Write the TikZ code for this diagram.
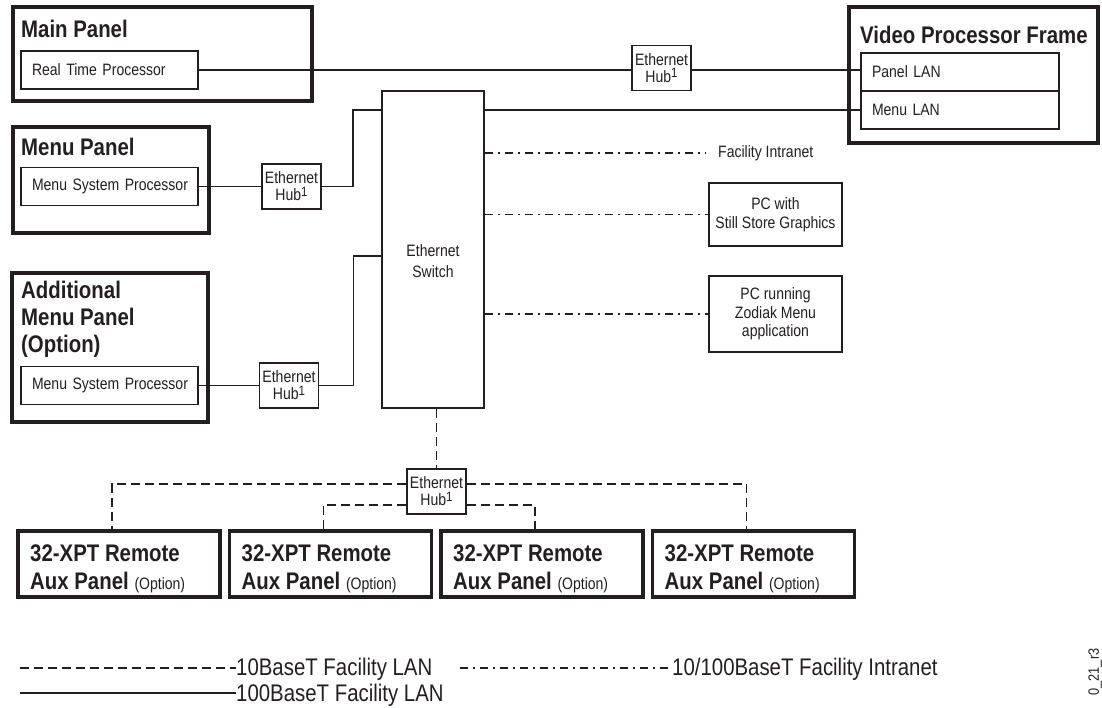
\documentclass[tikz,border=0pt]{standalone}
\usepackage{fontspec}
\setmainfont{Liberation Sans}[FakeStretch=0.85]
\usepackage{tikz}
\usetikzlibrary{calc}
\definecolor{ink}{HTML}{231F20}
\newcommand\ttlfont{\bfseries\fontsize{24}{27}\selectfont}
\newcommand\smfont{\mdseries\fontsize{16.5}{19}\selectfont}
\newcommand\lgdfont{\mdseries\fontsize{24}{24}\selectfont}
\newcommand\hubtext{Ethernet\\Hub\raisebox{0.55ex}{\fontsize{13.5}{13.5}\selectfont 1}}
\tikzset{
  panel/.style={draw=ink,line width=3.8pt,inner sep=0pt},
  unit/.style={draw=ink,line width=1.6pt,inner xsep=11pt,inner ysep=0pt,text width=#1,minimum height=38pt,align=left,font=\smfont,text=ink},
  hub/.style={draw=ink,line width=1.6pt,inner sep=0pt,minimum width=59pt,minimum height=45pt,align=center,font=\fontsize{16.5}{17}\selectfont,text=ink},
  pcbox/.style={draw=ink,line width=1.6pt,inner sep=0pt,minimum width=133pt,align=center,font=\fontsize{16.5}{19.5}\selectfont,text=ink},
  ttl/.style={anchor=base west,inner sep=0pt,align=left,font=\ttlfont,text=ink},
  lbl/.style={inner sep=0pt,font=\smfont,text=ink},
  lgd/.style={anchor=base west,inner sep=0pt,font=\lgdfont,text=ink},
  lan100/.style={draw=ink,line width=1.5pt},
  lan10/.style={lan100,dash pattern=on 9pt off 5pt},
  intra/.style={lan100,dash pattern=on 8pt off 5pt on 2pt off 5pt},
}
\begin{document}
\begin{tikzpicture}[x=1pt,y=-1pt]
  \useasboundingbox (0,0) rectangle (1102,707);
  % panels on the left
  \node[panel,minimum width=299pt,minimum height=94pt] (main) at (162.5,54) {};
  \node[ttl] (mainT) at (21,37) {Main Panel};
  \node[unit=155pt] (rtp) at (109.5,70) {\mbox{Real Time Processor}};
  \node[panel,minimum width=196pt,minimum height=106pt] (menu) at (111,180) {};
  \node[ttl] (menuT) at (21,155) {Menu Panel};
  \node[unit=155pt] (msp1) at (109.5,186.5) {\mbox{Menu System Processor}};
  \node[panel,minimum width=196pt,minimum height=149pt] (addl) at (110,347.5) {};
  \node[ttl] (addlT) at (21,352) {Additional\\Menu Panel\\(Option)};
  \node[unit=155pt] (msp2) at (109.5,385.5) {\mbox{Menu System Processor}};
  % frame
  \node[panel,minimum width=249pt,minimum height=136pt] (vpf) at (973.5,75) {};
  \node[ttl] (vpfT) at (860,43) {Video Processor Frame};
  \node[unit=176pt] (plan) at (960,72) {Panel LAN};
  \node[unit=176pt] (mlan) at (960,110) {Menu LAN};
  % hubs and switch
  \node[hub] (hubA) at (661.5,68) {\hubtext};
  \node[hub] (hubB) at (291.5,186.5) {\hubtext};
  \node[hub] (hubC) at (289,385.5) {\hubtext};
  \node[hub] (hubD) at (436.5,491.5) {\hubtext};
  \node[draw=ink,line width=1.6pt,minimum width=102pt,minimum height=317pt] (switch) at (433,249.5) {};
  \node[lbl,anchor=base,align=center,font=\fontsize{16.5}{21}\selectfont] (swT) at (433,277) {Ethernet\\Switch};
  % intranet side
  \node[lbl,anchor=west] (fi) at (718,153) {Facility Intranet};
  \node[pcbox,minimum height=63pt] (pc1) at (775.5,214.5) {PC with\\Still Store Graphics};
  \node[pcbox,minimum height=76pt,font=\fontsize{16.5}{18.5}\selectfont] (pc2) at (775.5,314) {PC running\\Zodiak Menu\\application};
  % remote aux panels
  \foreach \n/\x in {1/119,2/330.5,3/542,4/753.5} {
    \node[panel,minimum width=202pt,minimum height=66pt] (ap\n) at (\x,564) {};
    \node[ttl,font=\bfseries\fontsize{24}{28}\selectfont] (ap\n T) at ({\x-89},589) {32-XPT Remote\\Aux Panel {\smfont(Option)}};
  }
  % 100BaseT
  \draw[lan100] (rtp.east) -- (rtp.east -| hubA.west);
  \draw[lan100] (hubA.east |- rtp.east) -- (rtp.east -| plan.west);
  \draw[lan100] (switch.east |- mlan.west) -- (mlan.west);
  \draw[lan100] (msp1.east) -- (hubB.west);
  \draw[lan100] (hubB.east) -- ++(31,0) |- (switch.west |- mlan.west);
  \draw[lan100] (msp2.east) -- (hubC.west);
  \draw[lan100] (hubC.east) -- ++(34,0) |- ($(switch.west)+(0,6.5)$);
  % intranet
  \draw[intra] (switch.east |- fi.west) -- ($(fi.west)+(-13,0)$);
  \draw[intra] (switch.east |- pc1.west) -- (pc1.west);
  \draw[intra] (switch.east |- pc2.west) -- (pc2.west);
  % 10BaseT
  \draw[lan10] (switch.south -| hubD.north) -- (hubD.north);
  \draw[lan10] ($(hubD.west)+(0,-7.5)$) -| ($(ap1.north)+(-7,0)$);
  \draw[lan10] ($(hubD.west)+(0,13.5)$) -| ($(ap2.north)+(-7,0)$);
  \draw[lan10] ($(hubD.east)+(0,13.5)$) -| ($(ap3.north)+(-7,0)$);
  \draw[lan10] ($(hubD.east)+(0,-7.5)$) -| ($(ap4.north)+(-7,0)$);
  % legend
  \coordinate (l1) at (20,668);
  \coordinate (l2) at (20,693);
  \coordinate (l3) at (460,668);
  \node[lgd] (lg1) at (236,675) {10BaseT Facility LAN};
  \node[lgd] (lg2) at (236,701) {100BaseT Facility LAN};
  \node[lgd] (lg3) at (672,675) {10/100BaseT Facility Intranet};
  \draw[lan10] (l1) -- (l1 -| lg1.west);
  \draw[lan100] (l2) -- (l2 -| lg2.west);
  \draw[intra] (l3) -- (l3 -| lg3.west);
  \node[lbl,rotate=90,font=\fontsize{15}{15}\selectfont] (fig) at (1095,672) {0\_21\_r3};
\end{tikzpicture}
\end{document}
